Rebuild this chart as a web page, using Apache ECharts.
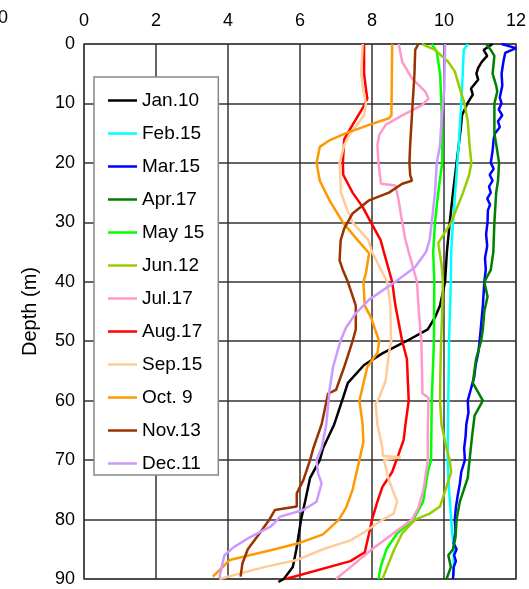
<!DOCTYPE html>
<html><head><meta charset="utf-8">
<script src="https://cdn.jsdelivr.net/npm/echarts@6/dist/echarts.min.js"></script>
<style>html,body{margin:0;padding:0;background:#fff}#c{width:529px;height:589px}</style>
</head><body><div id="c"></div>
<script>
// [temperature, depth] pairs
const seriesNames = ["Jan.10","Feb.15","Mar.15","Apr.17","May 15","Jun.12","Jul.17","Aug.17","Sep.15","Oct. 9","Nov.13","Dec.11"];
const xTicks = [0, 2, 4, 6, 8, 10, 12];
const yTicks = [0, 10, 20, 30, 40, 50, 60, 70, 80, 90];

const jan10 = [[11.35,0],[11.1,1],[11.2,2],[11.05,3],[10.95,4],[10.9,5],[10.95,6],[10.75,7.5],[10.8,8.5],[10.65,10],[10.5,12],[10.47,14],[10.45,15],[10.35,20],[10.25,25],[10.16,30],[10.08,35],[10.03,40],[9.89,44],[9.75,46],[9.55,48],[8.95,50],[8.3,52],[7.78,54],[7.33,57],[7.17,60],[6.95,64],[6.64,68],[6.55,70],[6.28,73],[6.14,77],[6.03,80],[5.9,85],[5.8,88],[5.55,90],[5.4,90.5]];
const feb15 = [[10.66,0],[10.55,1],[10.52,5],[10.48,10],[10.41,17],[10.37,20],[10.25,30],[10.2,35],[10.19,40],[10.14,50],[10.12,60],[10.1,70],[10.14,75],[10.2,80],[10.27,85],[10.27,89.5]];
const mar15 = [[11.6,0],[12.0,0.7],[11.7,1.5],[11.65,3],[11.6,5],[11.62,7],[11.55,9],[11.6,10],[11.52,11],[11.62,12],[11.5,13],[11.55,14],[11.42,15],[11.38,16],[11.35,18],[11.3,20],[11.38,21],[11.27,22],[11.35,23],[11.25,24],[11.3,25],[11.2,26],[11.28,27],[11.22,28],[11.21,30],[11.17,32],[11.2,34],[11.14,36],[11.16,38],[11.12,40],[11.1,42],[11.08,44],[11.05,46],[11.02,48],[10.99,50],[10.95,52],[10.88,54],[10.84,56],[10.75,58],[10.66,60],[10.68,62],[10.62,64],[10.6,66],[10.56,68],[10.58,70],[10.48,72],[10.44,74],[10.38,76],[10.33,78],[10.3,80],[10.32,82],[10.27,84],[10.35,85],[10.28,86],[10.33,87],[10.27,88],[10.25,90]];
const apr17 = [[11.17,0],[11.3,1],[11.4,2],[11.35,5],[11.45,7],[11.48,8],[11.4,10],[11.4,15],[11.48,18],[11.53,20],[11.5,23],[11.45,25],[11.4,30],[11.37,35],[11.3,38],[11.12,40],[11.21,42.5],[11.12,45],[11.08,48],[11.03,50],[10.89,53],[10.8,57],[11.08,60],[10.85,62.5],[10.78,66],[10.71,70],[10.66,73],[10.55,75],[10.44,77],[10.35,80],[10.32,83],[10.25,85],[10.12,86],[10.19,88],[10.07,90]];
const may15 = [[9.66,0],[9.8,1.3],[9.89,5],[9.93,10],[9.95,16],[9.95,20],[9.84,25],[9.75,30],[9.7,35],[9.73,40],[9.72,50],[9.66,60],[9.64,70],[9.55,72],[9.42,77],[9.15,80],[8.7,82.3],[8.4,85],[8.24,88],[8.18,90]];
const jun12 = [[9.39,0],[9.75,1],[10.12,3],[10.3,4.6],[10.44,7.5],[10.57,10],[10.66,13],[10.71,17],[10.76,20],[10.7,22],[10.53,25],[10.2,30],[9.84,33.5],[9.93,37],[9.97,40],[9.95,45],[9.92,50],[9.9,55],[9.89,60],[9.93,64],[10.07,68],[10.16,70],[10.2,72],[10.07,74.5],[9.89,77.8],[9.6,79],[9.2,80],[8.84,82.3],[8.62,85],[8.42,88],[8.29,90]];
const jul17 = [[8.74,0],[8.84,3],[9.11,5.8],[9.48,8],[9.57,9.2],[9.39,10.3],[8.84,12],[8.38,13.6],[8.2,15.3],[8.15,17],[8.18,20],[8.25,23.5],[8.65,23.8],[8.74,26.3],[8.84,30],[8.93,33],[9.02,35],[9.25,40],[9.3,45],[9.37,50],[9.39,55],[9.4,58.8],[9.57,59.5],[9.55,65],[9.55,70],[9.43,75],[9.29,78],[9.11,80],[8.6,82.3],[8.0,85],[7.4,88],[7.0,90]];
const aug17 = [[7.78,0],[7.78,5],[7.83,7.5],[7.87,9.2],[7.74,10.8],[7.46,13.6],[7.23,16],[7.19,20],[7.2,22],[7.46,25],[7.74,27.4],[7.97,30],[8.24,33],[8.33,35],[8.56,40],[8.65,44],[8.84,50],[8.97,53],[9.02,60],[8.93,64],[8.88,66.6],[8.74,69],[8.56,72],[8.29,74.5],[8.15,77],[8.0,80],[7.92,82.3],[7.8,85.5],[7.4,87],[5.6,90]];
const sep15 = [[7.74,0],[7.7,5],[7.75,7.5],[7.83,10],[7.78,12],[7.37,15.3],[7.23,17],[7.1,20],[7.14,25],[7.28,27.4],[7.46,30],[7.9,33],[8.0,35],[8.42,40],[8.51,44],[8.53,50],[8.47,52],[8.38,56.6],[8.2,59.5],[8.1,60.5],[8.15,64],[8.29,68],[8.3,69.3],[8.8,69.5],[8.33,70],[8.47,73.4],[8.7,77],[8.6,79],[8.3,80],[7.74,82.3],[7.4,83.5],[6.64,85],[5.91,86.8],[5.0,88],[3.76,90]];
const oct9 = [[8.56,0],[8.54,12],[8.47,12.5],[7.92,13.6],[7.28,15],[6.82,16.2],[6.55,17.3],[6.46,20],[6.55,23],[6.82,26.3],[7.19,30],[7.6,33],[7.92,35.2],[7.83,38.6],[7.76,40],[7.8,44],[7.97,46],[8.2,50],[8.15,52],[7.87,54.3],[7.65,60],[7.74,64],[7.76,67],[7.65,70],[7.46,75],[7.28,78],[7.08,80],[6.64,82.5],[5.95,84],[5.3,85],[4.6,86],[4.05,86.8],[3.85,88],[3.58,89.6]];
const nov13 = [[9.29,0],[9.2,1],[9.18,5],[9.13,10],[9.06,17],[9.04,20],[9.06,22],[9.11,23],[8.84,23.5],[8.47,25],[7.92,26.3],[7.46,28.5],[7.23,31],[7.13,33],[7.1,36.4],[7.19,38],[7.33,40],[7.55,44],[7.55,48],[7.46,50],[7.23,54.3],[7.0,58.2],[6.78,58.8],[6.6,64],[6.37,68],[6.28,70],[6.09,73.4],[5.91,75.6],[5.91,77.8],[5.3,78.4],[5.15,80],[4.88,82.3],[4.55,85],[4.4,87.4],[4.35,89.6]];
const dec11 = [[10.03,0],[10.01,7.5],[9.93,13],[9.89,17],[9.8,20],[9.75,25],[9.66,30],[9.6,33],[9.5,35],[9.2,37.5],[8.65,40],[7.92,43],[7.55,45.3],[7.28,47.7],[7.12,50],[6.92,54.3],[6.82,58.2],[6.73,64],[6.6,68],[6.46,70],[6.5,72.2],[6.6,73.9],[6.46,77],[6.09,78.4],[5.45,79.5],[5.3,80.5],[5.18,81.2],[4.63,82.9],[4.17,84.6],[3.9,86],[3.85,87.3],[3.79,89],[3.76,89.9]];

const allData = [jan10, feb15, mar15, apr17, may15, jun12, jul17, aug17, sep15, oct9, nov13, dec11];
const colors = ["#000000","#00FFFF","#0000FF","#008000","#00FF00","#99CC00","#FF99CC","#FF0000","#FFCC99","#FF9900","#993300","#CC99FF"];

const FONT = "Liberation Sans";
const chart = echarts.init(document.getElementById('c'), null, {renderer: 'canvas'});
chart.setOption({
  animation: false,
  backgroundColor: '#fff',
  textStyle: {fontFamily: FONT},
  grid: {left: 84, right: 7, top: 44, bottom: 10, show: true, borderColor: '#999', borderWidth: 2, backgroundColor: 'transparent'},
  xAxis: {
    type: 'value', position: 'top', min: xTicks[0], max: xTicks[xTicks.length-1], interval: 2,
    axisLine: {show: false}, axisTick: {show: false},
    axisLabel: {color: '#000', fontSize: 18, fontFamily: FONT, margin: 14},
    splitLine: {show: true, lineStyle: {color: '#333', width: 1.5}}
  },
  yAxis: {
    type: 'value', inverse: true, min: yTicks[0], max: yTicks[yTicks.length-1], interval: 10,
    name: 'Depth (m)', nameLocation: 'middle', nameGap: 44, nameRotate: 90,
    nameTextStyle: {color: '#000', fontSize: 20, fontFamily: FONT},
    axisLine: {show: false}, axisTick: {show: false},
    axisLabel: {color: '#000', fontSize: 18, fontFamily: FONT, margin: 9},
    splitLine: {show: true, lineStyle: {color: '#333', width: 1.5}}
  },
  legend: {
    show: true, orient: 'vertical', left: 94, top: 77,
    padding: [14, 14, 2, 14], itemGap: 14, itemWidth: 29, itemHeight: 14,
    backgroundColor: '#fff', borderColor: '#888', borderWidth: 1.5,
    textStyle: {color: '#000', fontSize: 19, fontFamily: FONT},
    data: seriesNames.map(n => ({name: n, icon: 'path://M0,6 L29,6 L29,8.5 L0,8.5 Z'}))
  },
  graphic: [{type: 'text', left: -2, top: 9, style: {text: '0', fontSize: 18, fontFamily: FONT, fill: '#000'}}],
  series: allData.map((d, i) => ({
    name: seriesNames[i], type: 'line', data: d, showSymbol: false, symbol: 'none',
    lineStyle: {color: colors[i], width: 2.5}, itemStyle: {color: colors[i]},
    clip: false
  }))
});
</script></body></html>
